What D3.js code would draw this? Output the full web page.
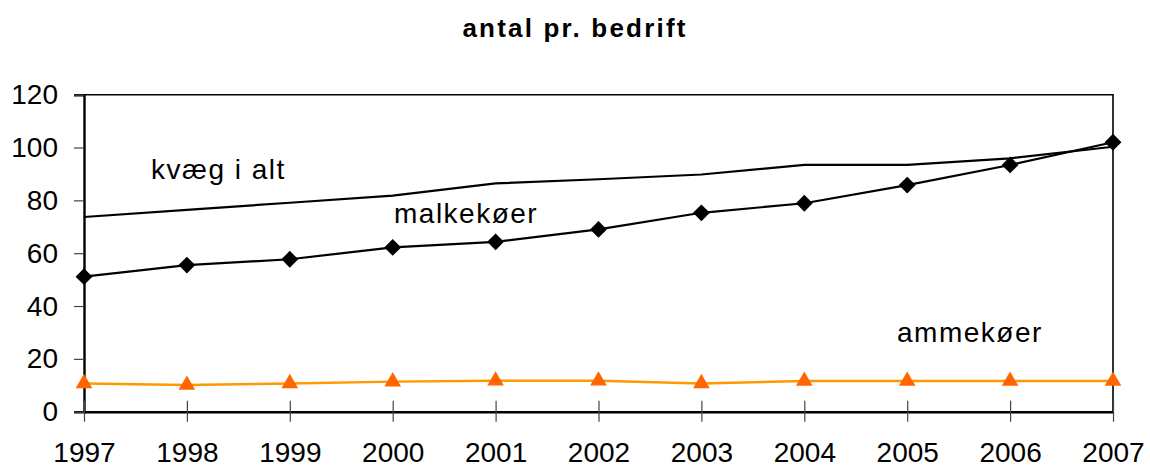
<!DOCTYPE html>
<html>
<head>
<meta charset="utf-8">
<script src="https://cdn.jsdelivr.net/npm/d3@7"></script>
<style>
  body { margin: 0; background: #fff; }
  svg { font-family: "Liberation Sans", Arial, sans-serif; }
</style>
</head>
<body>
<svg id="chart" width="1150" height="468"></svg>
<script>
// data
const years = [1997, 1998, 1999, 2000, 2001, 2002, 2003, 2004, 2005, 2006, 2007];
const kvaegIAlt = [73.7, 76.4, 79.1, 81.8, 86.4, 88, 89.8, 93.4, 93.4, 95.9, 100.3];
const malkekoer = [51.1, 55.5, 57.7, 62.2, 64.3, 69, 75.3, 78.9, 85.8, 93.4, 102];
const ammekoer = [10.7, 10.1, 10.7, 11.4, 11.7, 11.7, 10.7, 11.6, 11.6, 11.6, 11.6];
const yTicks = [0, 20, 40, 60, 80, 100, 120];

const svg = d3.select("#chart");
const plotLeft = 84, plotRight = 1113, plotTop = 94.7, plotBottom = 411.7;

const x = d3.scaleLinear().domain([1997, 2007]).range([plotLeft, plotRight]);
const y = d3.scaleLinear().domain([0, 120]).range([plotBottom, plotTop]);

// title
svg.append("text")
    .attr("x", 575).attr("y", 37)
    .attr("text-anchor", "middle")
    .attr("font-size", "26px")
    .attr("font-weight", "bold")
    .attr("letter-spacing", "2.2px")
    .text("antal pr. bedrift");

// plot frame (top + right)
svg.append("path")
    .attr("d", `M${plotLeft},${plotTop}H${plotRight}V${plotBottom}`)
    .attr("fill", "none")
    .attr("stroke", "#000")
    .attr("stroke-width", 1.6);

// y axis
const yAxis = svg.append("g")
    .attr("transform", `translate(${plotLeft},0)`)
    .call(d3.axisLeft(y).tickValues(yTicks).tickSize(10).tickPadding(16).tickFormat(d3.format("d")));
yAxis.select(".domain").attr("stroke", "#000").attr("stroke-width", 2.4);
yAxis.selectAll(".tick line").attr("stroke", "#444").attr("stroke-width", 1.2);
yAxis.selectAll("text").attr("font-size", "28px").attr("fill", "#000")
    .attr("font-family", "Liberation Sans, Arial, sans-serif");

// x axis with crossing ticks
const xAxis = svg.append("g")
    .attr("transform", `translate(0,${plotBottom})`)
    .call(d3.axisBottom(x).tickValues(years).tickSize(0).tickPadding(30.5).tickFormat(d3.format("d")));
xAxis.select(".domain").attr("stroke", "#000").attr("stroke-width", 2.4);
xAxis.selectAll("text").attr("font-size", "28px").attr("fill", "#000")
    .attr("font-family", "Liberation Sans, Arial, sans-serif");
xAxis.selectAll(".tick").append("line")
    .attr("y1", -11).attr("y2", 10)
    .attr("stroke", "#444").attr("stroke-width", 1.2);

const line = d3.line().x((d, i) => x(years[i])).y(d => y(d));

// kvæg i alt
svg.append("path")
    .datum(kvaegIAlt)
    .attr("d", line)
    .attr("fill", "none")
    .attr("stroke", "#000")
    .attr("stroke-width", 2.2);

// malkekøer
svg.append("path")
    .datum(malkekoer)
    .attr("d", line)
    .attr("fill", "none")
    .attr("stroke", "#000")
    .attr("stroke-width", 2.2);
svg.append("g").selectAll("path")
    .data(malkekoer)
    .enter().append("path")
    .attr("transform", (d, i) => `translate(${x(years[i])},${y(d)})`)
    .attr("d", d3.symbol().type(d3.symbolDiamond2).size(180))
    .attr("fill", "#000");

// ammekøer
svg.append("path")
    .datum(ammekoer)
    .attr("d", line)
    .attr("fill", "none")
    .attr("stroke", "#ff9900")
    .attr("stroke-width", 2.4);
svg.append("g").selectAll("path")
    .data(ammekoer)
    .enter().append("path")
    .attr("transform", (d, i) => `translate(${x(years[i])},${y(d)})`)
    .attr("d", d3.symbol().type(d3.symbolTriangle).size(120))
    .attr("fill", "#ff6600");

// series labels
const labels = [
    { text: "kvæg i alt", x: 151, y: 179 },
    { text: "malkekøer", x: 394, y: 222.7 },
    { text: "ammekøer", x: 897, y: 341.7 }
];
svg.append("g").selectAll("text")
    .data(labels)
    .enter().append("text")
    .attr("x", d => d.x).attr("y", d => d.y)
    .attr("font-size", "28px")
    .attr("letter-spacing", "1.5px")
    .text(d => d.text);
</script>
</body>
</html>
